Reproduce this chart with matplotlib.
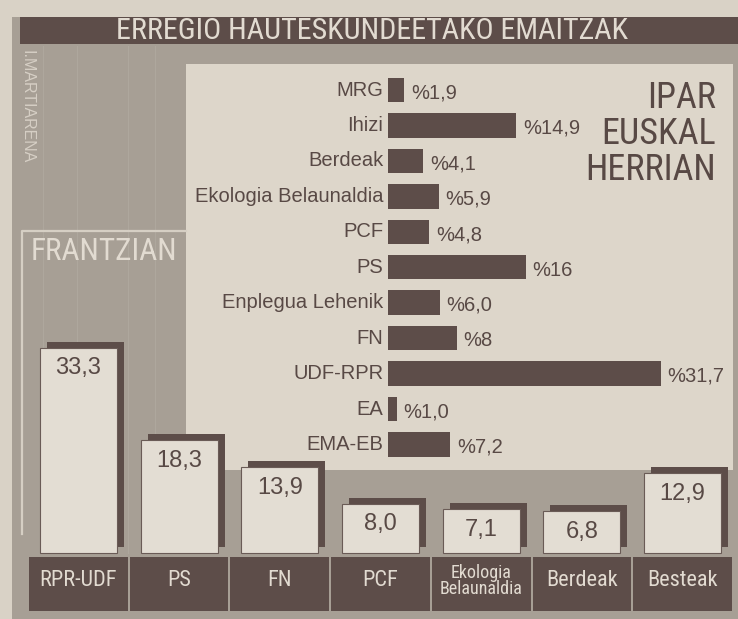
import matplotlib
matplotlib.use("Agg")
import matplotlib.pyplot as plt
import matplotlib.font_manager as fm
from matplotlib.patches import Rectangle
from matplotlib.lines import Line2D
from matplotlib.transforms import ScaledTranslation
import numpy as np

# -----------------------------
# Data
# -----------------------------
TITLE = "ERREGIO HAUTESKUNDEETAKO EMAITZAK"

# Frantzian (columns)
fr_parties = ["RPR-UDF", "PS", "FN", "PCF", "Ekologia\nBelaunaldia", "Berdeak", "Besteak"]
fr_values = [33.3, 18.3, 13.9, 8.0, 7.1, 6.8, 12.9]
fr_labels = ["33,3", "18,3", "13,9", "8,0", "7,1", "6,8", "12,9"]

# Ipar Euskal Herrian (horizontal bars)
ip_parties = ["MRG", "Ihizi", "Berdeak", "Ekologia Belaunaldia", "PCF", "PS",
              "Enplegua Lehenik", "FN", "UDF-RPR", "EA", "EMA-EB"]
ip_values = [1.9, 14.9, 4.1, 5.9, 4.8, 16, 6.0, 8, 31.7, 1.0, 7.2]
ip_labels = ["%1,9", "%14,9", "%4,1", "%5,9", "%4,8", "%16", "%6,0", "%8",
             "%31,7", "%1,0", "%7,2"]

# -----------------------------
# Style
# -----------------------------
PAPER = "#d9d2c6"
GRAY = "#a79f95"
LIGHT = "#ddd6ca"
BOX = "#e3ddd3"
DARK = "#5d4d49"
TEXT_DARK = "#584945"
TEXT_LIGHT = "#e2dbd1"

avail = {f.name for f in fm.fontManager.ttflist}
REG = "Liberation Sans" if "Liberation Sans" in avail else "DejaVu Sans"
plt.rcParams["font.family"] = [REG, "DejaVu Sans"]


# look for an upright, regular-weight condensed face for the headline texts
def upright(f):
    low = f.fname.lower()
    return (f.style == "normal" and f.weight in (400, "normal", "regular")
            and not any(k in low for k in ["italic", "oblique", "bold", "light",
                                            "thin", "medium", "black", "semi"]))


narrow_file = None
for want in ["Liberation Sans Narrow", "Roboto Condensed", "DejaVu Sans Condensed",
             "Open Sans Condensed", "Noto Sans Condensed"]:
    for f in fm.fontManager.ttflist:
        if not upright(f):
            continue
        low = f.fname.lower()
        if f.name == want or (want.split()[0].lower() in low and
                              ("condensed" in low or "narrow" in low)):
            narrow_file = f.fname
            break
    if narrow_file:
        break

SHRINK = 1.0 if narrow_file else 0.85


def narrow(size):
    if narrow_file:
        return fm.FontProperties(fname=narrow_file, size=size)
    return fm.FontProperties(family=REG, size=size * SHRINK)


W, H = 738, 619
fig = plt.figure(figsize=(W / 100, H / 100), dpi=100)
fig.patch.set_facecolor(PAPER)


def fx(px):
    return px / W


def fy(py):
    return 1 - py / H


def px_rect(x0, y0, x1, y1, color):
    fig.add_artist(Rectangle((fx(x0), fy(y1)), fx(x1) - fx(x0), fy(y0) - fy(y1),
                             transform=fig.transFigure, facecolor=color,
                             edgecolor="none", zorder=-3))


# background panels
px_rect(12, 17, 738, 619, GRAY)
px_rect(20, 17, 738, 44, DARK)
px_rect(186, 64, 733, 470, LIGHT)

# faint vertical streaks in the gray panel
for xs in [43, 77, 128, 155]:
    fig.add_artist(Line2D([fx(xs), fx(xs)], [fy(46), fy(553)], transform=fig.transFigure,
                          color="#b6afa5", lw=0.8, alpha=0.5, zorder=-2))

# Frantzian frame
fig.add_artist(Line2D([fx(22), fx(22), fx(186)], [fy(534), fy(231), fy(231)],
                      transform=fig.transFigure, color="#d6cfc4", lw=1.6, zorder=-1))

fig.text(fx(372), fy(31), TITLE, ha="center", va="center", color=TEXT_LIGHT,
         fontproperties=narrow(21.7))
fig.text(fx(31), fy(251), "FRANTZIAN", ha="left", va="center", color=TEXT_LIGHT,
         fontproperties=narrow(22.5))
fig.text(fx(27), fy(50), "I.MARTIARENA", ha="center", va="top", rotation=270,
         color="#d6cfc5", fontsize=11.5)
for line, yy in zip(["IPAR", "EUSKAL", "HERRIAN"], [98, 134, 170]):
    fig.text(fx(716), fy(yy), line, ha="right", va="center", color=TEXT_DARK,
             fontproperties=narrow(26))

# -----------------------------
# Ipar Euskal Herrian: horizontal bars
# -----------------------------
ax_ip = fig.add_axes([fx(388), fy(462.2), 344 / W, (462.2 - 72.3) / H])
ax_ip.set_facecolor("none")
y = np.arange(len(ip_parties))
ax_ip.barh(y, ip_values, height=0.69, color=DARK)
for i, (name, lab, v) in enumerate(zip(ip_parties, ip_labels, ip_values)):
    ax_ip.annotate(name, xy=(0, i), xytext=(-3.5, 0), textcoords="offset points",
                   ha="right", va="center", fontsize=14.5, color=TEXT_DARK,
                   annotation_clip=False)
    ax_ip.annotate(lab, xy=(v, i), xytext=(5, -2), textcoords="offset points",
                   ha="left", va="center", fontsize=14.5, color=TEXT_DARK,
                   annotation_clip=False)
ax_ip.set_xlim(0, 40)
ax_ip.set_ylim(len(ip_parties) - 0.5, -0.5)
ax_ip.axis("off")

# -----------------------------
# Frantzian: columns with shadow
# -----------------------------
ax_fr = fig.add_axes([fx(28), fy(611), 705 / W, (611 - 306.2) / H])
ax_fr.set_facecolor("none")
x = np.arange(len(fr_parties))
shadow = ax_fr.transData + ScaledTranslation(7 / 100, 6 / 100, fig.dpi_scale_trans)
ax_fr.bar(x, fr_values, width=0.765, color=DARK, transform=shadow, zorder=1)
ax_fr.bar(x, fr_values, width=0.765, color=BOX, edgecolor="#6a5b56", linewidth=0.8,
          zorder=2)
# category boxes below the columns
ax_fr.bar(x, 8.75, bottom=-9.4, width=0.98, color=DARK, zorder=2)

for i, (name, lab, v) in enumerate(zip(fr_parties, fr_labels, fr_values)):
    ax_fr.annotate(lab, xy=(i, v), xytext=(0, -7), textcoords="offset points",
                   ha="center", va="top", fontsize=17, color=TEXT_DARK, zorder=3)
    small = "\n" in name
    ax_fr.text(i, -4.5, name, ha="center", va="center", color=TEXT_LIGHT,
               fontproperties=narrow(13 if small else 16),
               linespacing=0.85, zorder=3)

ax_fr.set_xlim(-0.5, len(fr_parties) - 0.5)
ax_fr.set_ylim(-9.4, 40)
ax_fr.axis("off")

fig.savefig("out.png", dpi=100, facecolor=fig.get_facecolor())
